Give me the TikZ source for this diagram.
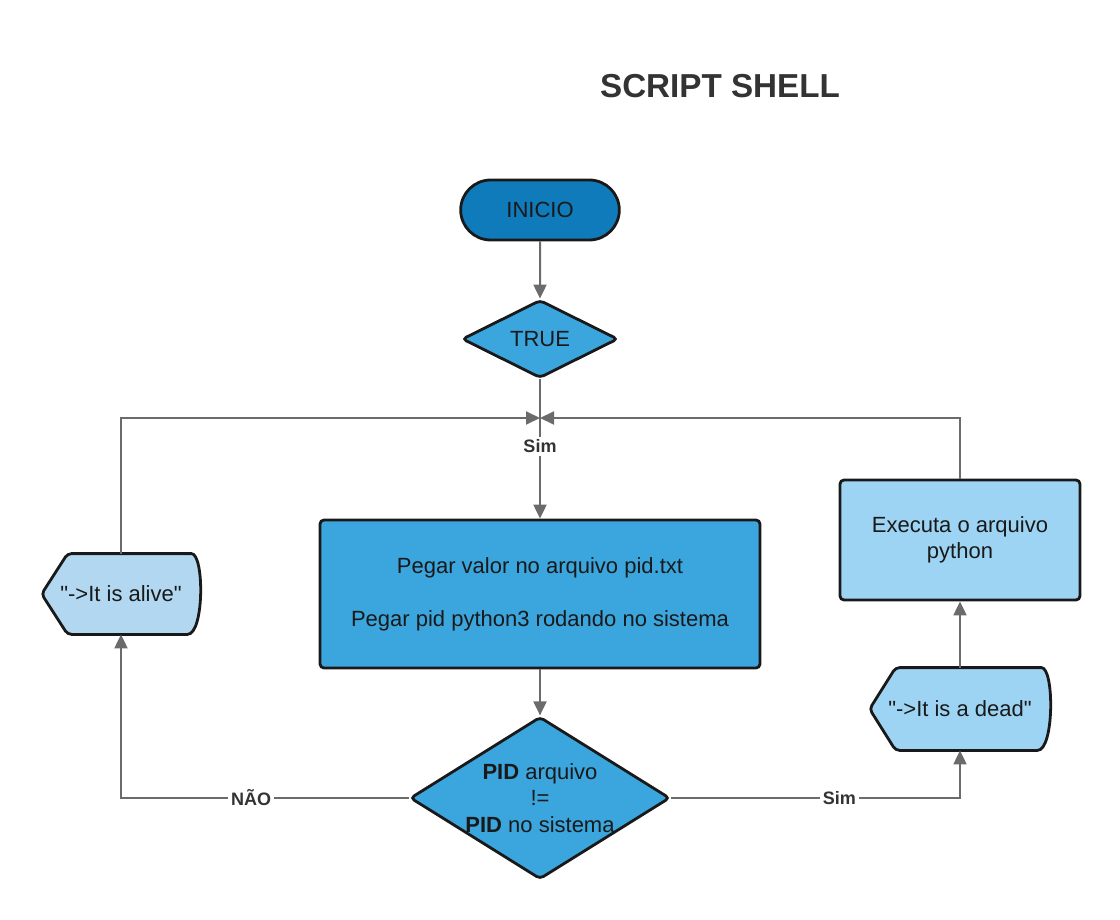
\documentclass[tikz,border=0pt]{standalone}
\usepackage{fontspec}
\setmainfont{Liberation Sans}[Ligatures=TeXOff]
\usepackage{tikz}
\usetikzlibrary{arrows.meta,shapes.geometric,shapes.misc,backgrounds}
\definecolor{startblue}{HTML}{0F7BBA}
\definecolor{midblue}{HTML}{3BA6DE}
\definecolor{paleblue}{HTML}{B2D7F0}
\definecolor{skyblue}{HTML}{9DD4F3}
\definecolor{lngray}{HTML}{6B6B6B}
\definecolor{inkgray}{HTML}{333333}
\tikzset{
  shapeln/.style={draw=black!90,line width=1.4pt},
  termA/.style={shapeln,fill=startblue,rounded rectangle,minimum width=86pt,minimum height=30pt},
  decA/.style={shapeln,fill=midblue,diamond,aspect=1.6,inner sep=0pt,rounded corners=2pt},
  procA/.style={shapeln,fill=midblue,rectangle,rounded corners=2pt,align=center},
  procB/.style={shapeln,fill=skyblue,rectangle,rounded corners=2pt,align=center},
  dispA/.style={rectangle,minimum width=#1,minimum height=41pt,inner sep=0pt},
  conn/.style={-{Triangle[length=7pt,width=6.5pt]},draw=lngray,line width=1pt},
  elab/.style={font=\fontsize{9}{10}\selectfont\bfseries,text=inkgray,fill=white,inner sep=1.5pt},
}
% display symbol round a named node
\newcommand{\dispshape}[2]{%
  \draw[shapeln,fill=#2,rounded corners=2pt] (#1.west) -- ([xshift=13pt]#1.north west)
    -- ([xshift=-6.5pt]#1.north east)
    [sharp corners] .. controls ([xshift=2pt]#1.north east) and ([xshift=2pt]#1.south east) .. ([xshift=-6.5pt]#1.south east)
    [rounded corners=2pt] -- ([xshift=13pt]#1.south west) -- cycle;}
\begin{document}
\begin{tikzpicture}[x=0.5pt,y=-0.5pt,font=\fontsize{11}{14}\selectfont,text=black!90]
  \useasboundingbox (0,0) rectangle (1120,920);
  \node[font=\fontsize{16.6}{18}\selectfont\bfseries,text=inkgray] (title) at (720,86) {SCRIPT SHELL};
  % nodes
  \node[termA] (inicio) at (540,210) {INICIO};
  \node[decA,minimum width=78pt,minimum height=39pt] (true) at (540,339) {TRUE};
  \coordinate (jn) at (540,418);
  \node[procA,minimum width=220pt,minimum height=74pt] (pegar) at (540,594)
    {Pegar valor no arquivo pid.txt\\[12.5pt]Pegar pid python3 rodando no sistema};
  \node[decA,minimum width=128pt,minimum height=79pt,align=center,font=\fontsize{11}{13.25}\selectfont] (pid) at (540,798)
    {\textbf{PID} arquivo\\!=\\\textbf{PID} no sistema};
  \node[dispA=79pt,minimum height=40pt] (alive) at (121,594) {"->It is alive"};
  \node[dispA=90pt] (dead) at (960,709) {"->It is a dead"};
  \node[procB,minimum width=120pt,minimum height=60pt] (exec) at (960,540) {Executa o arquivo\\[-1pt]python};
  \begin{scope}[on background layer]
    \dispshape{alive}{paleblue}
    \dispshape{dead}{skyblue}
  \end{scope}
  % connectors
  \draw[conn] (inicio) -- (true);
  \draw[conn] (true) -- node[elab,pos=0.48]{Sim} (pegar);
  \draw[conn] (pegar) -- (pid);
  \draw[conn] (pid.west) -| node[elab,pos=0.274]{NÃO} (alive.south);
  \draw[conn] (pid.east) -| node[elab,pos=0.291]{Sim} (dead.south);
  \draw[conn] (dead) -- (exec);
  \draw[conn] (exec.north) |- (jn);
  \draw[conn] (alive.north) |- (jn);
\end{tikzpicture}
\end{document}
